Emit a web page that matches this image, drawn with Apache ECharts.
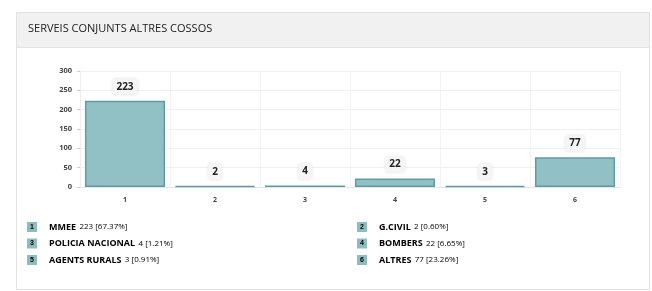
<!DOCTYPE html>
<html>
<head>
<meta charset="utf-8">
<script src="https://cdn.jsdelivr.net/npm/echarts@6/dist/echarts.min.js"></script>
<style>
  html, body { margin: 0; padding: 0; background: #fff; }
  #chart-container { width: 652px; height: 291px; }
</style>
</head>
<body>
<div id="chart-container"></div>
<script>
'use strict';

const categories = ['1', '2', '3', '4', '5', '6'];
const values = [223, 2, 4, 22, 3, 77];
const names = ['MMEE', 'G.CIVIL', 'POLICIA NACIONAL', 'BOMBERS', 'AGENTS RURALS', 'ALTRES'];
const yTicks = [0, 50, 100, 150, 200, 250, 300];

const total = values.reduce((a, b) => a + b, 0);

const myChart = echarts.init(document.getElementById('chart-container'), null, { renderer: 'canvas' });

// legend built as text blocks, two columns
const legendItems = names.map((name, i) => {
    const col = i % 2;
    const row = Math.floor(i / 2);
    const pct = (values[i] / total * 100).toFixed(2);
    return {
        type: 'text',
        left: col === 0 ? 27 : 357,
        top: 221 + row * 16.5,
        style: {
            text: '{box|' + categories[i] + '}{gap|}{name|' + name + '} {val|' + values[i] + ' [' + pct + '%]}',
            rich: {
                box: {
                    backgroundColor: '#8dbdc2',
                    color: '#3d6e73',
                    fontSize: 7,
                    fontWeight: 'bold',
                    width: 10,
                    height: 10,
                    align: 'center',
                    lineHeight: 10
                },
                gap: { width: 12 },
                name: {
                    fontSize: 9,
                    fontWeight: 'bold',
                    color: '#2a2a2a',
                    fontFamily: 'Open Sans'
                },
                val: {
                    fontSize: 8,
                    color: '#777',
                    fontFamily: 'Open Sans'
                }
            }
        }
    };
});

const option = {
    backgroundColor: '#fff',
    textStyle: { fontFamily: 'Open Sans' },
    graphic: [
        {
            type: 'rect',
            shape: { x: 16.5, y: 12.5, width: 633, height: 277 },
            style: { fill: '#fff', stroke: '#e2e2e2', lineWidth: 1 },
            z: -10
        },
        {
            type: 'rect',
            shape: { x: 17, y: 13, width: 632, height: 34 },
            style: { fill: '#f1f1f1' },
            z: -9
        },
        {
            type: 'line',
            shape: { x1: 17, y1: 47.5, x2: 649, y2: 47.5 },
            style: { stroke: '#e4e4e4', lineWidth: 1 },
            z: -9
        },
        {
            type: 'text',
            left: 28,
            top: 23,
            style: {
                text: 'SERVEIS CONJUNTS ALTRES COSSOS',
                fontSize: 11,
                fontFamily: 'Open Sans',
                fill: '#222'
            }
        }
    ].concat(legendItems),
    grid: {
        left: 80,
        right: 32,
        top: 71,
        bottom: 104,
        containLabel: false
    },
    xAxis: {
        type: 'category',
        data: categories,
        axisLine: { lineStyle: { color: '#e6e6e6' } },
        axisTick: { show: false },
        splitLine: { show: true, lineStyle: { color: '#f3f3f3' } },
        axisLabel: { fontSize: 7, fontWeight: 'bold', color: '#444', margin: 9 }
    },
    yAxis: {
        type: 'value',
        min: yTicks[0],
        max: yTicks[yTicks.length - 1],
        interval: 50,
        axisLine: { show: true, lineStyle: { color: '#eeeeee' } },
        axisTick: { show: true, length: 3, lineStyle: { color: '#ccc' } },
        splitLine: { lineStyle: { color: '#f0f0f0' } },
        axisLabel: { fontSize: 7.5, fontWeight: 'bold', color: '#444', margin: 8 }
    },
    series: [{
        type: 'bar',
        data: values,
        barCategoryGap: '11%',
        itemStyle: {
            color: '#92c1c5',
            borderColor: '#5f9ca2',
            borderWidth: 1.5
        },
        label: {
            show: true,
            position: 'top',
            distance: 6,
            fontSize: 10,
            fontWeight: 'bold',
            color: '#222',
            backgroundColor: '#f5f5f5',
            borderRadius: 3,
            padding: [3, 4],
            shadowColor: 'rgba(0,0,0,0.12)',
            shadowBlur: 3
        }
    }]
};

myChart.setOption(option);
window.addEventListener('resize', myChart.resize);
</script>
</body>
</html>
